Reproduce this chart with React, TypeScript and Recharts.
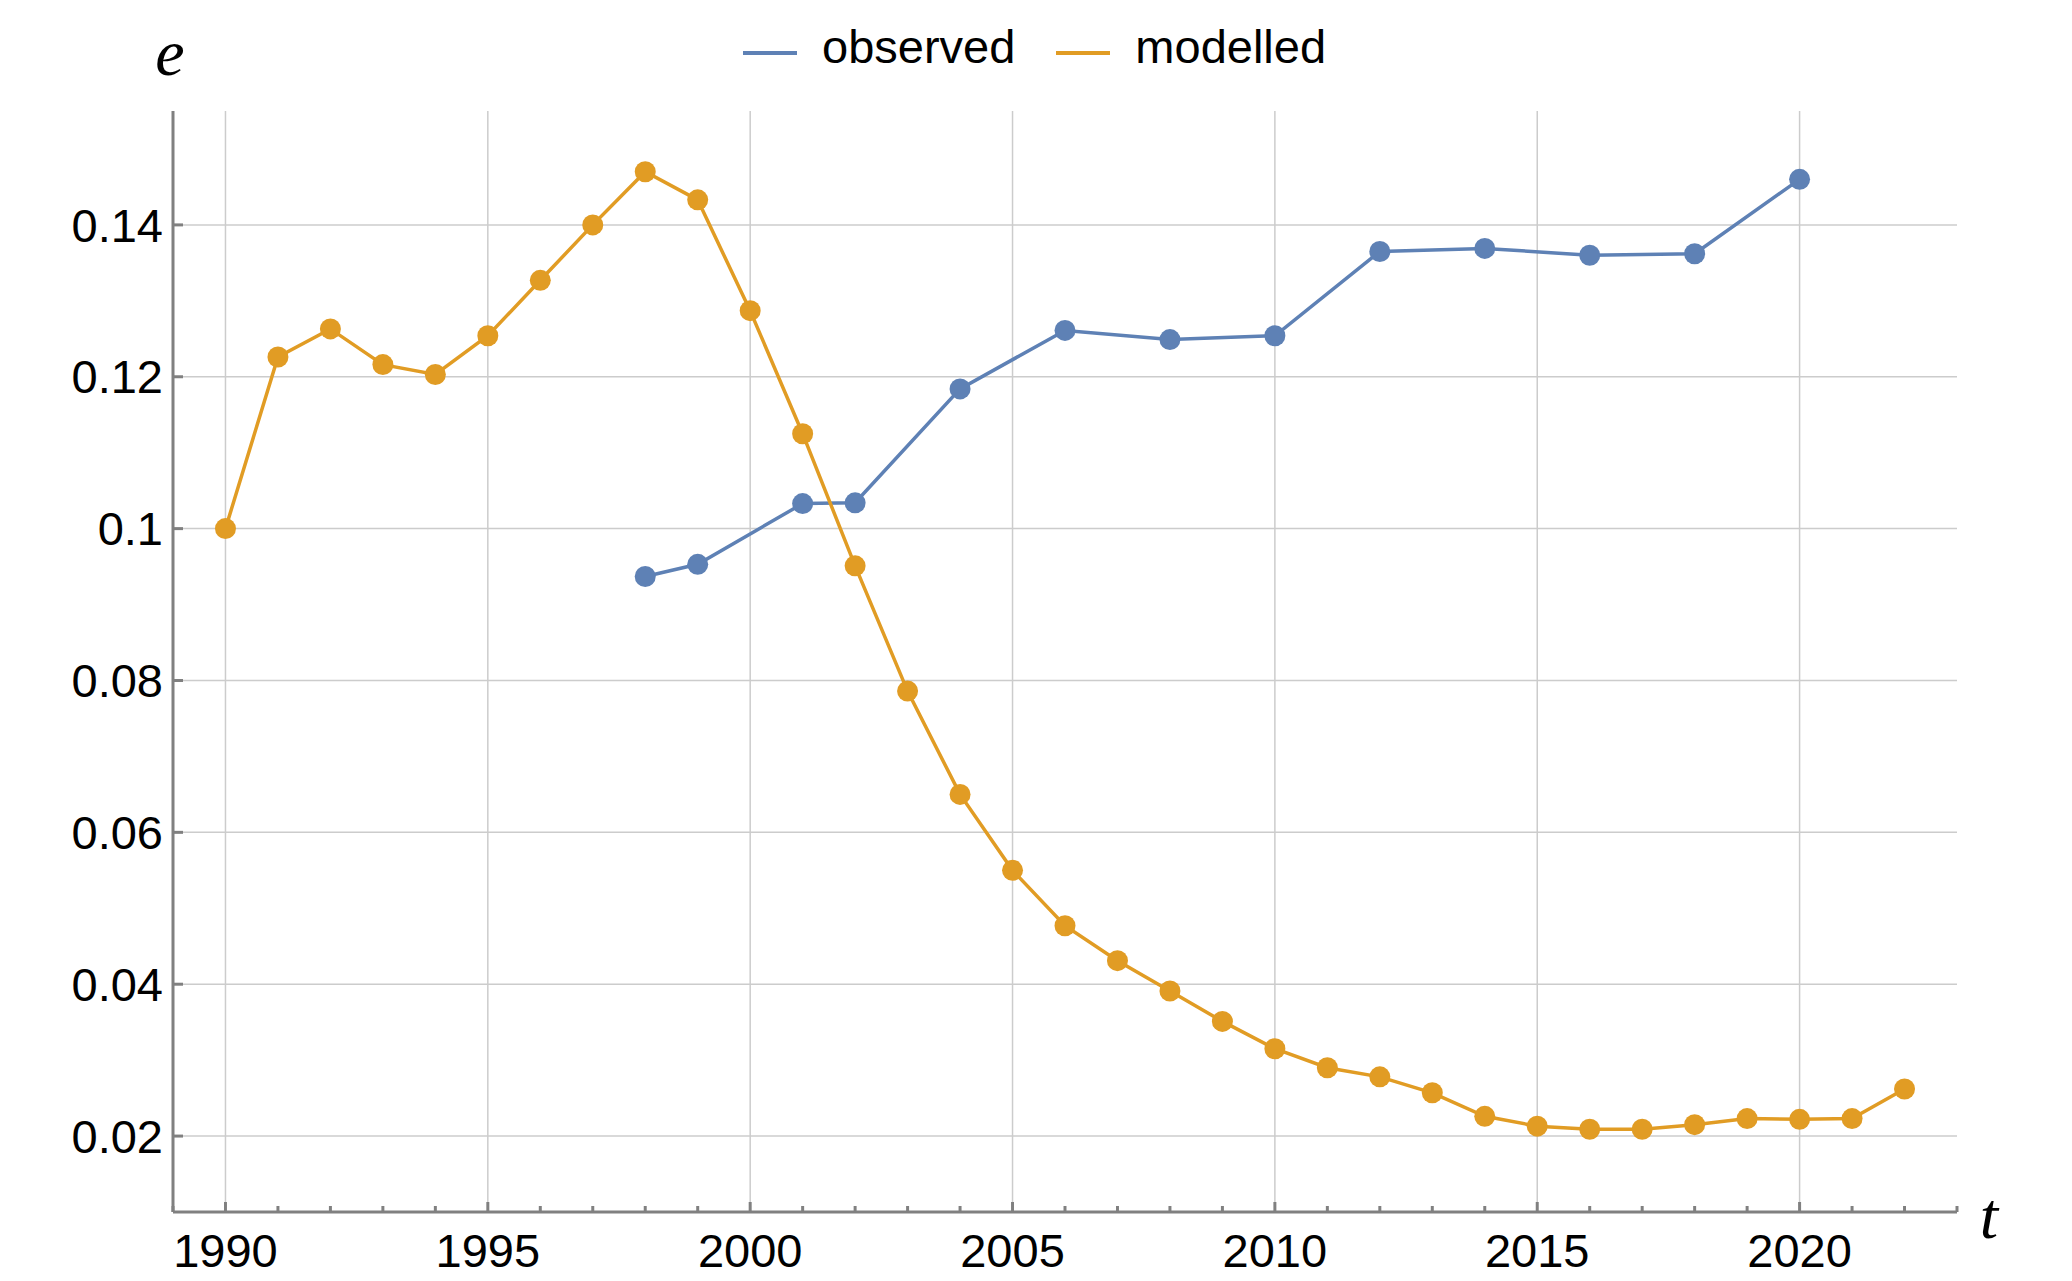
import React from 'react';
import { LineChart, Line, XAxis, YAxis, CartesianGrid, Legend } from 'recharts';

const YEARS = [
  1990, 1991, 1992, 1993, 1994, 1995, 1996, 1997, 1998, 1999, 2000, 2001, 2002, 2003, 2004, 2005,
  2006, 2007, 2008, 2009, 2010, 2011, 2012, 2013, 2014, 2015, 2016, 2017, 2018, 2019, 2020, 2021, 2022,
];

const MODELLED = [
  0.1, 0.1226, 0.1263, 0.1216, 0.1203, 0.1254, 0.1327, 0.14, 0.147, 0.1433, 0.1287, 0.1125, 0.0951,
  0.0786, 0.065, 0.055, 0.0477, 0.0431, 0.0391, 0.0351, 0.0315, 0.029, 0.0278, 0.0257, 0.0226,
  0.0213, 0.0209, 0.0209, 0.0215, 0.0223, 0.0222, 0.0223, 0.0262,
];

const OBSERVED: (number | null)[] = [
  null, null, null, null, null, null, null, null, 0.0937, 0.0953, null, 0.1033, 0.1034, null, 0.1184,
  null, 0.1261, null, 0.1249, null, 0.1254, null, 0.1365, null, 0.1369, null, 0.136, null, 0.1362,
  null, 0.146, null, null,
];

const X_TICKS = [
  1989, 1990, 1991, 1992, 1993, 1994, 1995, 1996, 1997, 1998, 1999, 2000, 2001, 2002, 2003, 2004,
  2005, 2006, 2007, 2008, 2009, 2010, 2011, 2012, 2013, 2014, 2015, 2016, 2017, 2018, 2019, 2020,
  2021, 2022, 2023,
];
const X_MAJOR = [1990, 1995, 2000, 2005, 2010, 2015, 2020];
const Y_TICKS = [0.02, 0.04, 0.06, 0.08, 0.1, 0.12, 0.14];

const SERIES_OBSERVED = 'observed';
const SERIES_MODELLED = 'modelled';
const LEGEND_ORDER = [SERIES_OBSERVED, SERIES_MODELLED];
const BLUE = '#5E81B5';
const ORANGE = '#E19C24';
const AXIS_GRAY = '#808080';
const GRID_GRAY = '#cccccc';
const SANS = '"Liberation Sans", Arial, Helvetica, sans-serif';
const SERIF = '"Liberation Serif", "Times New Roman", serif';

const data = YEARS.map((year, i) => ({
  year,
  observed: OBSERVED[i],
  modelled: MODELLED[i],
}));

const XTick = (props: any) => {
  const { x, y, payload } = props;
  const major = X_MAJOR.includes(payload.value);
  return (
    <g>
      <line x1={x} x2={x} y1={y} y2={y - (major ? 10 : 6)} stroke={AXIS_GRAY} strokeWidth={3} />
      {major && (
        <text x={x} y={y + 55} textAnchor="middle" fontSize={47} fontFamily={SANS} fill="#000">
          {payload.value}
        </text>
      )}
    </g>
  );
};

const LegendContent = (props: any) => {
  const raw = props.payload || [];
  const items = LEGEND_ORDER.map((name) => raw.find((it: any) => it.value === name)).filter(Boolean);
  return (
    <div style={{ height: 0, overflow: 'visible', position: 'relative' }}>
      <div
        style={{
          position: 'absolute',
          top: 20,
          left: 0,
          display: 'flex',
          alignItems: 'center',
          paddingLeft: 743,
          height: 54,
          fontFamily: SANS,
          fontSize: 47,
          color: '#000',
          whiteSpace: 'nowrap',
        }}
      >
        {items.map((it: any, i: number) => (
          <React.Fragment key={it.value}>
            <span
              style={{
                display: 'inline-block',
                width: 54,
                height: 4,
                background: it.color,
                position: 'relative',
                top: 6,
                marginRight: 25,
                marginLeft: i === 0 ? 0 : 41,
              }}
            />
            <span style={{ lineHeight: '54px' }}>{it.value}</span>
          </React.Fragment>
        ))}
      </div>
    </div>
  );
};

const YLabel = (props: any) => {
  const vb = props.viewBox || {};
  return (
    <text
      x={vb.x + vb.width - 3}
      y={vb.y - 36}
      textAnchor="middle"
      fontFamily={SERIF}
      fontStyle="italic"
      fontSize={66}
      fill="#000"
    >
      e
    </text>
  );
};

const XLabel = (props: any) => {
  const vb = props.viewBox || {};
  return (
    <text
      x={vb.x + vb.width + 32}
      y={vb.y + 26}
      textAnchor="middle"
      fontFamily={SERIF}
      fontStyle="italic"
      fontSize={66}
      fill="#000"
    >
      t
    </text>
  );
};

export default function App() {
  return (
    <div style={{ position: 'fixed', top: 0, left: 0, width: 2072, height: 1281, background: '#fff' }}>
      <LineChart width={2072} height={1281} data={data} margin={{ top: 111, right: 115, bottom: 0, left: 0 }}>
        <CartesianGrid stroke={GRID_GRAY} strokeWidth={1.5} verticalValues={X_MAJOR} horizontalValues={Y_TICKS} />
        <XAxis
          dataKey="year"
          type="number"
          domain={[1989, 2023]}
          ticks={X_TICKS}
          interval={0}
          height={69}
          tickSize={0}
          tickMargin={0}
          tickLine={false}
          tick={<XTick />}
          axisLine={{ stroke: AXIS_GRAY, strokeWidth: 3 }}
          allowDataOverflow
          label={{ content: <XLabel /> }}
        />
        <YAxis
          type="number"
          domain={[0.01, 0.155]}
          ticks={Y_TICKS}
          interval={0}
          width={173}
          tickSize={-10}
          tickMargin={20}
          tickLine={{ stroke: AXIS_GRAY, strokeWidth: 3 }}
          tick={{ fontSize: 47, fontFamily: SANS, fill: '#000' }}
          tickFormatter={(v: number) => String(v)}
          axisLine={{ stroke: AXIS_GRAY, strokeWidth: 3 }}
          allowDataOverflow
          label={{ content: <YLabel /> }}
        />
        <Legend
          verticalAlign="top"
          align="left"
          content={<LegendContent />}
          wrapperStyle={{ top: 0, left: 0, width: 2072, height: 0 }}
        />
        <Line
          name={SERIES_OBSERVED}
          dataKey="observed"
          stroke={BLUE}
          strokeWidth={3.5}
          connectNulls
          dot={{ r: 10.5, fill: BLUE, stroke: 'none' }}
          activeDot={false}
          isAnimationActive={false}
        />
        <Line
          name={SERIES_MODELLED}
          dataKey="modelled"
          stroke={ORANGE}
          strokeWidth={3.5}
          dot={{ r: 10.5, fill: ORANGE, stroke: 'none' }}
          activeDot={false}
          isAnimationActive={false}
        />
      </LineChart>
    </div>
  );
}
